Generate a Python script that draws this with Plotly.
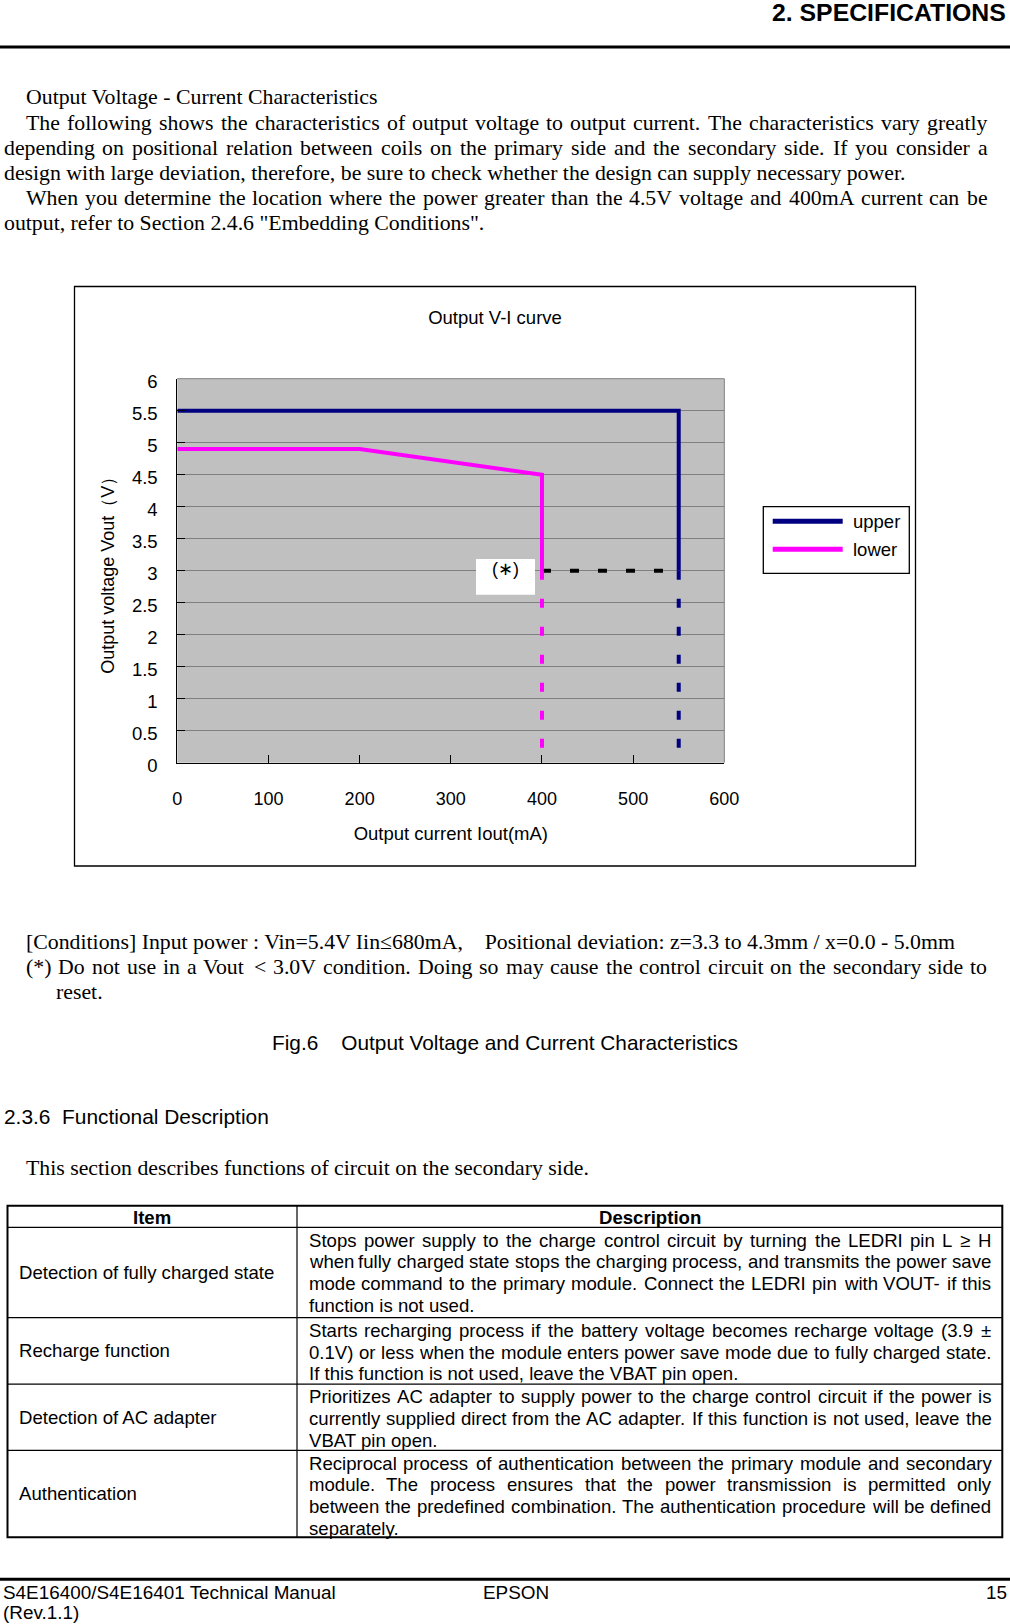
import plotly.graph_objects as go

W, H = 1010, 1624

# ---------------- chart data ----------------
upper_current = [0, 550, 550]
upper_voltage = [5.5, 5.5, 3.0]
upper_ext_current = [550, 550]
upper_ext_voltage = [3.0, 0.0]
lower_current = [0, 200, 400, 400]
lower_voltage = [4.9, 4.9, 4.5, 3.0]
lower_ext_current = [400, 400]
lower_ext_voltage = [3.0, 0.0]
limit_current = [400, 550]
limit_voltage = [3.0, 3.0]
x_tick_values = [0, 100, 200, 300, 400, 500, 600]
x_tick_labels = ["0", "100", "200", "300", "400", "500", "600"]
y_tick_values = [0, 0.5, 1, 1.5, 2, 2.5, 3, 3.5, 4, 4.5, 5, 5.5, 6]
y_tick_labels = ["0", "0.5", "1", "1.5", "2", "2.5", "3", "3.5", "4", "4.5", "5", "5.5", "6"]
series_names = ["upper", "lower"]
series_colors = ["#000080", "#FF00FF"]

# ---------------- page text ----------------
body_lines = [
    ("Output Voltage - Current Characteristics", 26, 97, False),
    ("The following shows the characteristics of output voltage to output current. The characteristics vary greatly", 26, 123, True),
    ("depending on positional relation between coils on the primary side and the secondary side. If you consider a", 3.5, 148, True),
    ("design with large deviation, therefore, be sure to check whether the design can supply necessary power.", 3.5, 173, False),
    ("When you determine the location where the power greater than the 4.5V voltage and 400mA current can be", 26, 198, True),
    ("output, refer to Section 2.4.6 \"Embedding Conditions\".", 3.5, 223, False),
]
note_lines = [
    ("[Conditions] Input power : Vin=5.4V Iin\u2264680mA,\u00a0\u00a0\u00a0\u00a0Positional deviation: z=3.3 to 4.3mm / x=0.0 - 5.0mm", 26, 941.5, False),
    ("(*) Do not use in a Vout < 3.0V condition. Doing so may cause the control circuit on the secondary side to", 26, 966.5, True),
    ("reset.", 56, 992, False),
    ("This section describes functions of circuit on the secondary side.", 26, 1167.5, False),
]
table_items = ["Detection of fully charged state", "Recharge function", "Detection of AC adapter", "Authentication"]
table_descriptions = [
    ["Stops power supply to the charge control circuit by turning the LEDRI pin L \u2265 H",
     "when fully charged state stops the charging process, and transmits the power save",
     "mode command to the primary module. Connect the LEDRI pin with VOUT- if this",
     "function is not used."],
    ["Starts recharging process if the battery voltage becomes recharge voltage (3.9 \u00b1",
     "0.1V) or less when the module enters power save mode due to fully charged state.",
     "If this function is not used, leave the VBAT pin open."],
    ["Prioritizes AC adapter to supply power to the charge control circuit if the power is",
     "currently supplied direct from the AC adapter. If this function is not used, leave the",
     "VBAT pin open."],
    ["Reciprocal process of authentication between the primary module and secondary",
     "module. The process ensures that the power transmission is permitted only",
     "between the predefined combination. The authentication procedure will be defined",
     "separately."],
]

SANS = "Liberation Sans, Arial, sans-serif"
SERIF = "Liberation Serif, Times New Roman, serif"

HELV = {' ': 278, '!': 278, '"': 355, '#': 556, '$': 556, '%': 889, '&': 667, "'": 191, '(': 333, ')': 333,
        '*': 389, '+': 584, ',': 278, '-': 333, '.': 278, '/': 278, ':': 278, ';': 278, '<': 584, '=': 584,
        '>': 584, '?': 556, '@': 1015, 'A': 667, 'B': 667, 'C': 722, 'D': 722, 'E': 667, 'F': 611, 'G': 778,
        'H': 722, 'I': 278, 'J': 500, 'K': 667, 'L': 556, 'M': 833, 'N': 722, 'O': 778, 'P': 667, 'Q': 778,
        'R': 722, 'S': 667, 'T': 611, 'U': 722, 'V': 667, 'W': 944, 'X': 667, 'Y': 667, 'Z': 611, '[': 278,
        ']': 278, 'a': 556, 'b': 556, 'c': 500, 'd': 556, 'e': 556, 'f': 278, 'g': 556, 'h': 556, 'i': 222,
        'j': 222, 'k': 500, 'l': 222, 'm': 833, 'n': 556, 'o': 556, 'p': 556, 'q': 556, 'r': 333, 's': 500,
        't': 278, 'u': 556, 'v': 500, 'w': 722, 'x': 500, 'y': 500, 'z': 500, '\u00b1': 584, '\u2265': 549,
        '\u2264': 549}
for d in "0123456789":
    HELV[d] = 556
TIMES = {' ': 250, '!': 333, '"': 408, '(': 333, ')': 333, '*': 500, '+': 564, ',': 250, '-': 333, '.': 250,
         '/': 278, ':': 278, ';': 278, '<': 564, '=': 564, '>': 564, '?': 444, 'A': 722, 'B': 667, 'C': 667,
         'D': 722, 'E': 611, 'F': 556, 'G': 722, 'H': 722, 'I': 333, 'J': 389, 'K': 722, 'L': 611, 'M': 889,
         'N': 722, 'O': 722, 'P': 556, 'Q': 722, 'R': 667, 'S': 556, 'T': 611, 'U': 722, 'V': 722, 'W': 944,
         'X': 722, 'Y': 722, 'Z': 611, '[': 333, ']': 333, 'a': 444, 'b': 500, 'c': 444, 'd': 500, 'e': 444,
         'f': 333, 'g': 500, 'h': 500, 'i': 278, 'j': 278, 'k': 500, 'l': 278, 'm': 778, 'n': 500, 'o': 500,
         'p': 500, 'q': 500, 'r': 333, 's': 389, 't': 278, 'u': 500, 'v': 500, 'w': 722, 'x': 500, 'y': 500,
         'z': 444, '\u2264': 549}
for d in "0123456789":
    TIMES[d] = 500


def px(x):
    return x / W


def py(y):
    return 1 - y / H


def esc(s):
    return s.replace("&", "&amp;").replace("<", "&lt;").replace(">", "&gt;")


annotations = []
shapes = []


def add_text(text, x, y, size, family, xanchor="left", bold=False):
    t = esc(text)
    if bold:
        t = "<b>" + t + "</b>"
    annotations.append(dict(text=t, x=px(x), y=py(y), xref="paper", yref="paper", xanchor=xanchor,
                            yanchor="middle", showarrow=False, borderpad=0, borderwidth=0,
                            font=dict(family=family, size=size, color="black")))


def width(s, table, size):
    return sum(table.get(c, 500) for c in s) * size / 1000.0


def add_line(text, x0, x1, y, size, family, table, justify):
    if not justify:
        add_text(text, x0, y, size, family)
        return
    words = text.split()
    ws = [width(w, table, size) for w in words]
    gap = (x1 - x0 - sum(ws)) / (len(words) - 1)
    x = x0
    for w, wd in zip(words, ws):
        add_text(w, x, y, size, family)
        x += wd + gap


def hline(y, x0, x1, w, color="black"):
    shapes.append(dict(type="line", xref="paper", yref="paper", x0=px(x0), x1=px(x1), y0=py(y), y1=py(y),
                       line=dict(color=color, width=w), layer="above"))


def vline(x, y0, y1, w, color="black"):
    shapes.append(dict(type="line", xref="paper", yref="paper", x0=px(x), x1=px(x), y0=py(y0), y1=py(y1),
                       line=dict(color=color, width=w), layer="above"))


def rect(x0, y0, x1, y1, w, color="black", fill=None):
    shapes.append(dict(type="rect", xref="paper", yref="paper", x0=px(x0), x1=px(x1), y0=py(y0), y1=py(y1),
                       line=dict(color=color, width=w), fillcolor=fill, layer="above"))


# header / footer
add_text("2. SPECIFICATIONS", 1006, 12, 24.8, SANS, xanchor="right", bold=True)
hline(47, 0, W, 3)
hline(1579.3, 0, W, 3)
add_text("S4E16400/S4E16401 Technical Manual", 3, 1592.5, 18.9, SANS)
add_text("(Rev.1.1)", 3, 1612, 18.9, SANS)
add_text("EPSON", 515.5, 1592.5, 18.9, SANS, xanchor="center")
add_text("15", 1007, 1592.5, 18.9, SANS, xanchor="right")

BODY_SIZE = 21.8
for text, x0, y, j in body_lines + note_lines:
    add_line(text, x0, 987.2, y, BODY_SIZE, SERIF, TIMES, j)

add_text("Fig.6\u00a0\u00a0\u00a0\u00a0Output Voltage and Current Characteristics", 505, 1042, 20.8, SANS, xanchor="center")
add_text("2.3.6\u00a0\u00a0Functional Description", 4, 1116.5, 20.9, SANS)

# table
T_LEFT, T_RIGHT, T_COL = 7.5, 1002.3, 297.0
T_TOP = 1205.7
row_bounds = [1227.3, 1317.7, 1384.2, 1450.3, 1537.3]
rect(T_LEFT, T_TOP, T_RIGHT, row_bounds[-1], 2)
vline(T_COL, T_TOP, row_bounds[-1], 1.2)
for yb in row_bounds[:-1]:
    hline(yb, T_LEFT, T_RIGHT, 1.2)
TS = 18.6
add_text("Item", (T_LEFT + T_COL) / 2, 1217.3, TS, SANS, xanchor="center", bold=True)
add_text("Description", (T_COL + T_RIGHT) / 2, 1217.3, TS, SANS, xanchor="center", bold=True)
for i, (item, desc) in enumerate(zip(table_items, table_descriptions)):
    top, bot = row_bounds[i], row_bounds[i + 1]
    add_text(item, 19, (top + bot) / 2, TS, SANS)
    for k, line in enumerate(desc):
        add_line(line, 308.7, 991.4, top + 12.7 + 21.75 * k, TS, SANS, HELV, k < len(desc) - 1)

# chart frame, label box and manual legend
rect(74.5, 286.5, 915.5, 866, 1.3)
rect(476, 559, 535, 594.7, 0, color="white", fill="white")
add_text("(\u2217)", 505.5, 569.5, 18, SANS, xanchor="center")
rect(763.3, 506.7, 909.3, 573.3, 1.3)
legend_rows = [521.3, 549.3]
for name, color, yy in zip(series_names, series_colors, legend_rows):
    hline(yy, 772.7, 842.7, 5, color=color)
    add_text(name, 853, yy + 0.5, 18.5, SANS)

# plot border (top/right gray)
shapes.append(dict(type="line", xref="x domain", yref="y domain", x0=0, x1=1, y0=1, y1=1,
                   line=dict(color="#808080", width=1), layer="below"))
shapes.append(dict(type="line", xref="x domain", yref="y domain", x0=1, x1=1, y0=0, y1=1,
                   line=dict(color="#808080", width=1), layer="below"))

fig = go.Figure()
dash = "9px,19px"
fig.add_trace(go.Scatter(x=limit_current, y=limit_voltage, mode="lines", showlegend=False,
                         line=dict(color="black", width=4, dash=dash), hoverinfo="skip"))
fig.add_trace(go.Scatter(x=lower_ext_current, y=lower_ext_voltage, mode="lines", showlegend=False,
                         line=dict(color=series_colors[1], width=4, dash=dash)))
fig.add_trace(go.Scatter(x=upper_ext_current, y=upper_ext_voltage, mode="lines", showlegend=False,
                         line=dict(color=series_colors[0], width=4, dash=dash)))
fig.add_trace(go.Scatter(x=lower_current, y=lower_voltage, mode="lines", name=series_names[1],
                         showlegend=False, line=dict(color=series_colors[1], width=4)))
fig.add_trace(go.Scatter(x=upper_current, y=upper_voltage, mode="lines", name=series_names[0],
                         showlegend=False, line=dict(color=series_colors[0], width=4)))

fig.update_layout(
    width=W, height=H, autosize=False,
    margin=dict(l=0, r=0, t=0, b=0, pad=0, autoexpand=False),
    paper_bgcolor="white", plot_bgcolor="#C0C0C0",
    font=dict(family=SANS, color="black", size=18),
    showlegend=False,
    title=dict(text="Output V-I curve", x=px(495), xanchor="center", y=py(317.7), yanchor="middle",
               font=dict(family=SANS, size=18.5, color="black")),
    xaxis=dict(domain=[px(177.3), px(724.3)], range=[0, 600], tickvals=x_tick_values, ticktext=x_tick_labels,
               ticks="inside", ticklen=8, tickwidth=1, tickcolor="black", showline=True, linecolor="black",
               linewidth=1, showgrid=False, zeroline=False, tickfont=dict(size=18, color="black"),
               ticklabelstandoff=20, automargin=False,
               title=dict(text="Output current Iout(mA)", font=dict(size=18.5, color="black"), standoff=18),
               fixedrange=True),
    yaxis=dict(domain=[py(762.7), py(378.7)], range=[0, 6], tickvals=y_tick_values, ticktext=y_tick_labels,
               ticks="inside", ticklen=8, tickwidth=1, tickcolor="black", showline=True, linecolor="black",
               linewidth=1, showgrid=True, gridcolor="#808080", gridwidth=1, zeroline=False,
               tickfont=dict(size=18.5, color="black"), ticklabelstandoff=15, ticklabelshift=3,
               automargin=False,
               title=dict(text="\u2003Output voltage Vout\uff08V\uff09", font=dict(size=18, color="black"), standoff=12),
               fixedrange=True),
    annotations=annotations,
    shapes=shapes,
)

fig.write_html("out.html", config={"displayModeBar": False})
